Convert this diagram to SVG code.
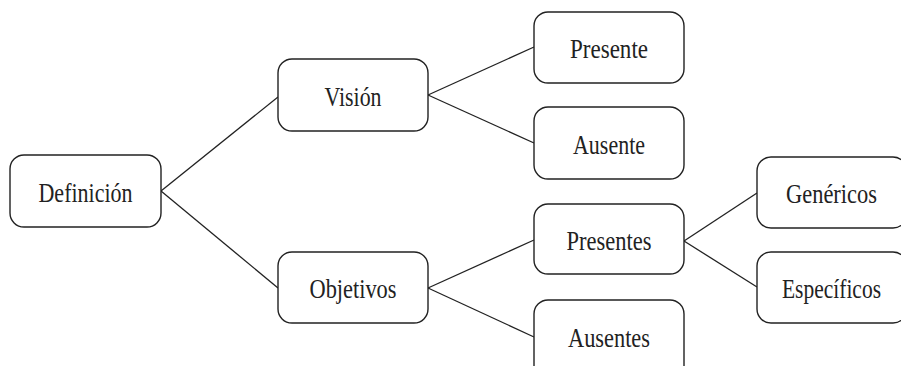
<svg xmlns="http://www.w3.org/2000/svg" width="901" height="366" viewBox="0 0 901 366">
<style>
.box{fill:#fff;stroke:#222;stroke-width:1.4}
.lbl{font-family:"Liberation Serif","Times New Roman",serif;font-size:28px;fill:#222;text-anchor:middle}
.con{stroke:#222;stroke-width:1.3;fill:none}
</style>
<rect width="901" height="366" fill="#fff"/>
<g id="connectors">
<line class="con" x1="161" y1="191" x2="278" y2="97"/>
<line class="con" x1="161" y1="191" x2="278" y2="288"/>
<line class="con" x1="428" y1="95" x2="534" y2="47"/>
<line class="con" x1="428" y1="95" x2="534" y2="143"/>
<line class="con" x1="428" y1="288" x2="534" y2="240"/>
<line class="con" x1="428" y1="288" x2="534" y2="337"/>
<line class="con" x1="684" y1="241" x2="757" y2="193"/>
<line class="con" x1="684" y1="241" x2="757" y2="287"/>
</g>
<g id="definicion"><rect class="box" x="10" y="155" width="151" height="72" rx="14"/><text class="lbl" x="85.5" y="202" textLength="94" lengthAdjust="spacingAndGlyphs">Definición</text></g>
<g id="vision"><rect class="box" x="278" y="59" width="150" height="72" rx="14"/><text class="lbl" x="353" y="105.5" textLength="57" lengthAdjust="spacingAndGlyphs">Visión</text></g>
<g id="objetivos"><rect class="box" x="278" y="252" width="150" height="71" rx="14"/><text class="lbl" x="353" y="298" textLength="87" lengthAdjust="spacingAndGlyphs">Objetivos</text></g>
<g id="presente"><rect class="box" x="534" y="12" width="150" height="71" rx="14"/><text class="lbl" x="609" y="58" textLength="78" lengthAdjust="spacingAndGlyphs">Presente</text></g>
<g id="ausente"><rect class="box" x="534" y="107" width="150" height="72" rx="14"/><text class="lbl" x="609" y="153.5" textLength="72" lengthAdjust="spacingAndGlyphs">Ausente</text></g>
<g id="presentes"><rect class="box" x="534" y="204" width="150" height="70" rx="14"/><text class="lbl" x="609" y="250" textLength="85" lengthAdjust="spacingAndGlyphs">Presentes</text></g>
<g id="ausentes"><rect class="box" x="534" y="300" width="150" height="80" rx="14"/><text class="lbl" x="609" y="347" textLength="82" lengthAdjust="spacingAndGlyphs">Ausentes</text></g>
<g id="genericos"><rect class="box" x="757" y="157" width="150" height="71" rx="14"/><text class="lbl" x="831.5" y="203" textLength="91" lengthAdjust="spacingAndGlyphs">Genéricos</text></g>
<g id="especificos"><rect class="box" x="757" y="252" width="150" height="71" rx="14"/><text class="lbl" x="831.5" y="298" textLength="99" lengthAdjust="spacingAndGlyphs">Específicos</text></g>
</svg>
